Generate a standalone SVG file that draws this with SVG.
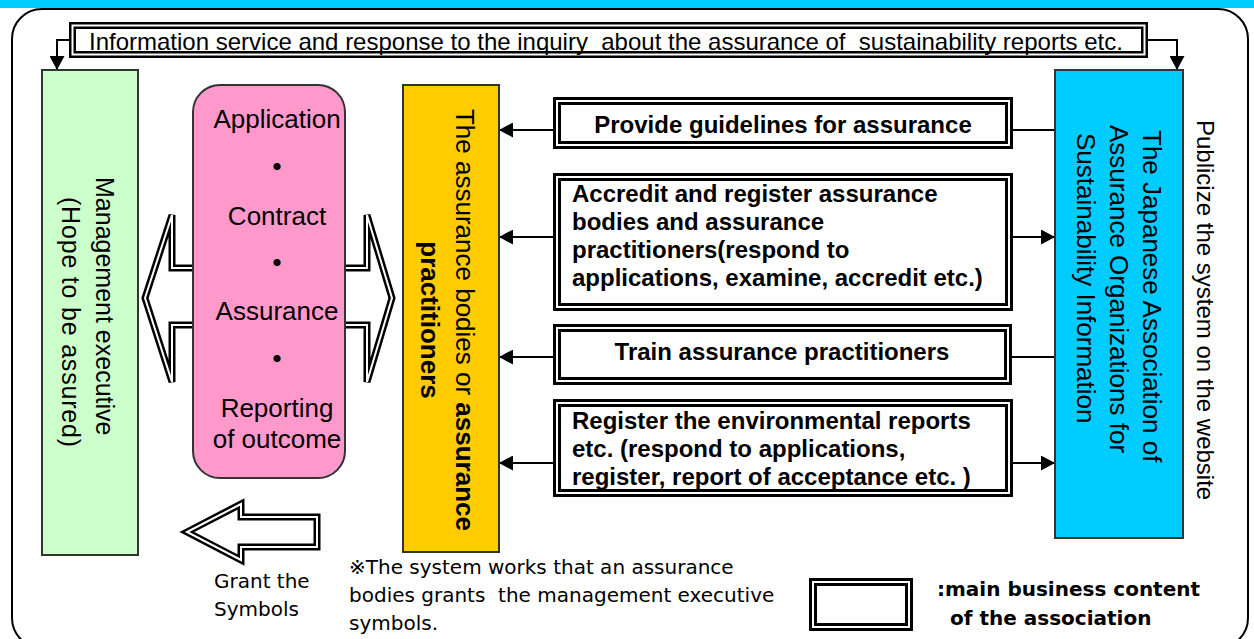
<svg xmlns="http://www.w3.org/2000/svg" width="1254" height="639" viewBox="0 0 1254 639">
<defs>
<style>
text{white-space:pre}
.t{font-family:"Liberation Sans",Arial,sans-serif;fill:#000}
.b{font-weight:bold}
.j{font-family:"DejaVu Sans","Noto Sans CJK JP",sans-serif;fill:#000}
.dbl{fill:#fff;stroke:#000;stroke-width:8}
.gap{fill:none;stroke:#fff;stroke-width:2}
.dblt{fill:#fff;stroke:#000;stroke-width:7}
.arr{fill:#fff;stroke:#000;stroke-width:7;stroke-linejoin:miter;stroke-miterlimit:6}
.arrg{fill:none;stroke:#fff;stroke-width:2;stroke-linejoin:miter;stroke-miterlimit:6}
.conn{fill:none;stroke:#000;stroke-width:2}
.node{stroke:#333;stroke-width:2}
</style>
<marker id="ah" viewBox="0 0 14 15" refX="14" refY="7.5" markerWidth="14" markerHeight="15" markerUnits="userSpaceOnUse" orient="auto"><path d="M0,0 L14,7.5 L0,15 Z" fill="#000"/></marker>
<path id="bigArrow" d="M145,298 L172,215 L172,268 L367,268 L367,215 L392,298 L367,382 L367,325 L172,325 L172,382 Z"/>
<path id="grantArrow" d="M187,532 L241,504 L241,517 L317,517 L317,547 L241,547 L241,560 Z"/>
</defs>

<rect x="0" y="0" width="1254" height="8" fill="#00CCFF"/>
<rect x="12" y="9" width="1236" height="639" rx="30" ry="30" fill="#fff" stroke="#000" stroke-width="2"/>

<g id="connectors">
<path class="conn" d="M69,40 H57 V70" marker-end="url(#ah)"/>
<path class="conn" d="M1148,40 H1177 V70" marker-end="url(#ah)"/>
<path class="conn" d="M553,130 H499" marker-end="url(#ah)"/>
<path class="conn" d="M1013,130 H1055"/>
<path class="conn" d="M553,237 H499" marker-end="url(#ah)"/>
<path class="conn" d="M1013,237 H1055" marker-end="url(#ah)"/>
<path class="conn" d="M553,357 H499" marker-end="url(#ah)"/>
<path class="conn" d="M1012,357 H1055"/>
<path class="conn" d="M553,463 H499" marker-end="url(#ah)"/>
<path class="conn" d="M1013,463 H1055" marker-end="url(#ah)"/>
<use href="#bigArrow" class="arr"/>
<use href="#bigArrow" class="arrg"/>
<use href="#grantArrow" class="arr"/>
<use href="#grantArrow" class="arrg"/>
</g>

<g id="info-service">
<rect class="dblt" x="72.5" y="25.5" width="1072" height="29"/>
<rect class="gap" x="72.5" y="25.5" width="1072" height="29"/>
<text class="t" x="89" y="50" font-size="24" xml:space="preserve">Information service and response to the inquiry  about the assurance of  sustainability reports etc.</text>
</g>

<g id="management">
<rect class="node" x="42" y="70" width="96" height="485" fill="#CCFFCC"/>
<text class="t" font-size="25" transform="translate(96,177) rotate(90)">Management executive</text>
<text class="t" font-size="25" transform="translate(62,197) rotate(90)" textLength="250">(Hope to be assured)</text>
</g>

<g id="process">
<rect class="node" x="193" y="85" width="152" height="393" rx="27" ry="27" fill="#FF99CC"/>
<g class="t" font-size="26" text-anchor="middle">
<text x="277" y="128">Application</text>
<text x="277" y="225">Contract</text>
<text x="277" y="320">Assurance</text>
<text x="277" y="417">Reporting</text>
<text x="277" y="448">of outcome</text>
</g>
<g font-family="'Noto Sans CJK JP',sans-serif" font-weight="bold" font-size="28" text-anchor="middle">
<text x="277" y="178">・</text>
<text x="277" y="274">・</text>
<text x="277" y="370">・</text>
</g>
</g>

<g id="assurance-bodies">
<rect class="node" x="403" y="85" width="96" height="467" fill="#FFCC00"/>
<text class="t" font-size="26" text-anchor="middle" transform="translate(456,320) rotate(90)">The assurance bodies or <tspan font-weight="bold">assurance</tspan></text>
<text class="t b" font-size="26" text-anchor="middle" transform="translate(421,320) rotate(90)">practitioners</text>
</g>

<g id="guidelines">
<rect class="dbl" x="557" y="101" width="452" height="44"/>
<rect class="gap" x="557" y="101" width="452" height="44"/>
<text class="t b" x="783" y="133" font-size="24" text-anchor="middle">Provide guidelines for assurance</text>
</g>

<g id="accredit">
<rect class="dbl" x="557" y="177" width="452" height="130"/>
<rect class="gap" x="557" y="177" width="452" height="130"/>
<g class="t b" font-size="24">
<text x="572" y="202">Accredit and register assurance</text>
<text x="572" y="230">bodies and assurance</text>
<text x="572" y="258">practitioners(respond to</text>
<text x="572" y="286">applications, examine, accredit etc.)</text>
</g>
</g>

<g id="train">
<rect class="dbl" x="557" y="328" width="451" height="53"/>
<rect class="gap" x="557" y="328" width="451" height="53"/>
<text class="t b" x="782" y="360" font-size="24" text-anchor="middle">Train assurance practitioners</text>
</g>

<g id="register">
<rect class="dbl" x="557" y="403" width="452" height="90"/>
<rect class="gap" x="557" y="403" width="452" height="90"/>
<g class="t b" font-size="24">
<text x="572" y="429">Register the environmental reports</text>
<text x="572" y="457">etc. (respond to applications,</text>
<text x="572" y="485">register, report of acceptance etc. )</text>
</g>
</g>

<g id="association">
<rect class="node" x="1055" y="70" width="128" height="468" fill="#00CCFF"/>
<text class="t" font-size="26" transform="translate(1143,130) rotate(90)">The Japanese Association of</text>
<text class="t" font-size="26" transform="translate(1110,125) rotate(90)">Assurance Organizations for</text>
<text class="t" font-size="26" transform="translate(1077,133) rotate(90)">Sustainability Information</text>
</g>

<g id="publicize">
<text class="t" font-size="24" transform="translate(1197,120) rotate(90)">Publicize the system on the website</text>
</g>

<g id="grant-label">
<text class="j" font-size="20" x="214" y="588">Grant the</text>
<text class="j" font-size="20" x="214" y="616">Symbols</text>
</g>

<g id="note">
<text class="j" font-size="20" x="349" y="574">※The system works that an assurance</text>
<text class="j" font-size="20" x="349" y="602" xml:space="preserve">bodies grants  the management executive</text>
<text class="j" font-size="20" x="349" y="630">symbols.</text>
</g>

<g id="legend">
<rect class="dbl" x="813" y="582" width="96" height="45"/>
<rect class="gap" x="813" y="582" width="96" height="45"/>
<text class="j b" font-size="20" x="937" y="596">:main business content</text>
<text class="j b" font-size="20" x="950" y="625">of the association</text>
</g>
</svg>
